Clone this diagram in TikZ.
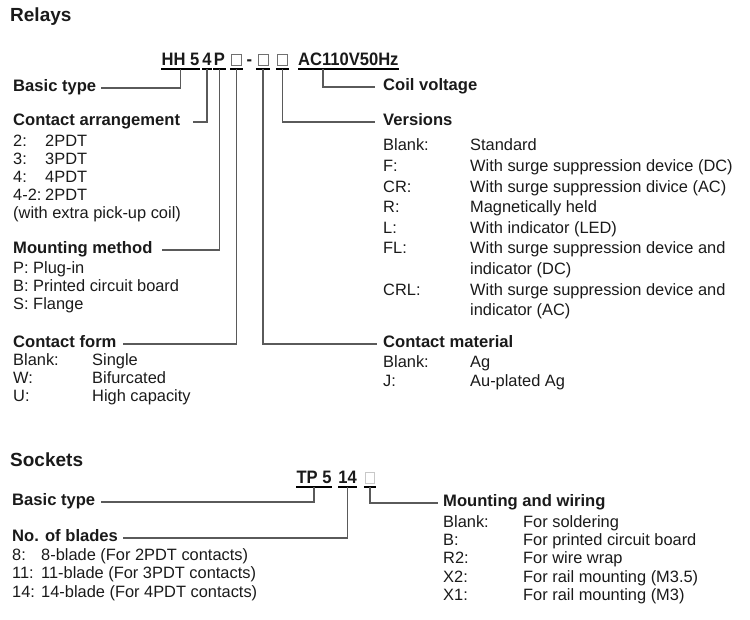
\documentclass[tikz,border=0pt]{standalone}
\usepackage{fontspec}
\setmainfont{Liberation Sans}
\newfontfamily\codefont[FakeStretch=0.92]{Liberation Sans}
\definecolor{txt}{HTML}{1A1A1A}
\definecolor{ln}{HTML}{5A5A5A}
\definecolor{boxd}{HTML}{707070}
\definecolor{boxl}{HTML}{C8C8C8}
\begin{document}
\begin{tikzpicture}[x=1pt,y=-1pt,
  every node/.style={inner sep=0pt, text=txt},
  ttl/.style={anchor=west, font=\fontsize{19}{21}\selectfont\bfseries, text height=13.6pt, text depth=0pt},
  hd/.style={anchor=west, font=\fontsize{16.6}{18}\selectfont\bfseries, text height=11.9pt, text depth=4pt},
  bd/.style={anchor=west, font=\fontsize{16.4}{18}\selectfont, text height=11.7pt, text depth=0pt},
  code/.style={anchor=base, font=\codefont\fontsize{18}{20}\selectfont\bfseries, text height=12.9pt, text depth=4pt},
  ul/.style={draw=black, line width=2pt},
  conn/.style={draw=ln, line width=1.3pt},
  sq/.style={draw=boxd, line width=0.9pt},
  sql/.style={draw=boxl, line width=0.9pt}]
\useasboundingbox (0,0) rectangle (750,619);

% ---------------- Relays ----------------
\node[ttl] (relays) at (10,15) {Relays};

\node[code, minimum width=38pt] (hh5) at (180.5,65) {HH 5};
\node[code, minimum width=10pt] (c4) at (207,65) {4};
\node[code, minimum width=13pt] (cP) at (219.5,65) {P};
\node[code, minimum width=13pt] (b1) at (236.5,65) {};
\node[code] (dash) at (249.5,65) {-};
\node[code, minimum width=14pt] (b2) at (263,65) {};
\node[code, minimum width=13pt] (b3) at (282.5,65) {};
\node[code, anchor=base west] (acv) at (298,65) {AC110V50Hz};
\foreach \n in {b1,b2,b3}
  \draw[sq] ([xshift=-5pt]\n.base) rectangle ([xshift=5pt,yshift=11pt]\n.base);
\foreach \n in {hh5,c4,cP,b1,b2,b3,acv}
  \draw[ul] (\n.south west) -- (\n.south east);

\node[hd] (basic) at (13,88) {Basic type};
\node[hd] (carr) at (13,122) {Contact arrangement};
\node[hd] (mount) at (13,250) {Mounting method};
\node[hd] (cform) at (13,344) {Contact form};
\node[hd] (coil) at (383,87) {Coil voltage};
\node[hd] (vers) at (383,122) {Versions};
\node[hd] (cmat) at (383,344) {Contact material};

\coordinate (basicE) at (101,88);
\coordinate (carrE) at (193,122);
\coordinate (mountE) at (162,250);
\coordinate (cformE) at (123,344);
\coordinate (cmatW) at (377,344);
\coordinate (versW) at (375,122);
\coordinate (coilW) at (375,87);
\draw[conn] (hh5.south) |- (basicE);
\draw[conn] (c4.south) |- (carrE);
\draw[conn] (cP.south) |- (mountE);
\draw[conn] (b1.south) |- (cformE);
\draw[conn] (b2.south) |- (cmatW);
\draw[conn] (b3.south) |- (versW);
\draw[conn] ([xshift=25pt]acv.south west) |- (coilW);

% contact arrangement list
\foreach \k/\v/\y [count=\i] in {2:/2PDT/141, 3:/3PDT/159, 4:/4PDT/177, 4-2:/2PDT/195}{
  \node[bd] (cak\i) at (13,\y) {\k};
  \node[bd] (cav\i) at (45,\y) {\v};
}
\node[bd] (ca5) at (13,213) {(with extra pick-up coil)};

% mounting method list
\foreach \t/\y [count=\i] in {P: Plug-in/268, B: Printed circuit board/286, S: Flange/304}
  \node[bd] (mm\i) at (13,\y) {\t};

% contact form list
\foreach \k/\v/\y [count=\i] in {Blank:/Single/360, W:/Bifurcated/378, U:/High capacity/396}{
  \node[bd] (cfk\i) at (13,\y) {\k};
  \node[bd] (cfv\i) at (92,\y) {\v};
}

% versions list
\foreach \k/\v/\y [count=\i] in {
  Blank:/Standard/145,
  F:/With surge suppression device (DC)/165.6,
  CR:/With surge suppression divice (AC)/186.2,
  R:/Magnetically held/206.8,
  L:/With indicator (LED)/227.4,
  FL:/With surge suppression device and/248,
  /indicator (DC)/268.6,
  CRL:/With surge suppression device and/289.2,
  /indicator (AC)/309.8}{
  \node[bd] (vk\i) at (383,\y) {\k};
  \node[bd] (vv\i) at (470,\y) {\v};
}

% contact material list
\foreach \k/\v/\y [count=\i] in {Blank:/Ag/362, J:/Au-plated Ag/381}{
  \node[bd] (cmk\i) at (383,\y) {\k};
  \node[bd] (cmv\i) at (470,\y) {\v};
}

% ---------------- Sockets ----------------
\node[ttl] (sockets) at (10,460) {Sockets};

\node[code, minimum width=34pt] (tp5) at (314,483) {TP 5};
\node[code, minimum width=17pt] (s14) at (347.5,483) {14};
\node[code, minimum width=12pt] (sb) at (370,483) {};
\draw[sql] ([xshift=-4.5pt]sb.base) rectangle ([xshift=4.5pt,yshift=11pt]sb.base);
\foreach \n in {tp5,s14,sb}
  \draw[ul] (\n.south west) -- (\n.south east);

\node[hd] (sbasic) at (12,502) {Basic type};
\node[hd] (blades) at (12,538) {No. of blades};
\node[hd] (mw) at (443,503) {Mounting and wiring};

\coordinate (sbasicE) at (101,502);
\coordinate (bladesE) at (123,538);
\coordinate (mwW) at (438,503);
\draw[conn] (tp5.south) |- (sbasicE);
\draw[conn] (s14.south) |- (bladesE);
\draw[conn] (sb.south) |- (mwW);

\foreach \k/\v/\y [count=\i] in {8:/8-blade (For 2PDT contacts)/555,
  11:/11-blade (For 3PDT contacts)/573, 14:/14-blade (For 4PDT contacts)/592}{
  \node[bd] (bk\i) at (12,\y) {\k};
  \node[bd] (bv\i) at (41,\y) {\v};
}

\foreach \k/\v/\y [count=\i] in {Blank:/For soldering/522, B:/For printed circuit board/540,
  R2:/For wire wrap/558, X2:/For rail mounting (M3.5)/577, X1:/For rail mounting (M3)/595}{
  \node[bd] (wk\i) at (443,\y) {\k};
  \node[bd] (wv\i) at (523,\y) {\v};
}
\end{tikzpicture}
\end{document}
